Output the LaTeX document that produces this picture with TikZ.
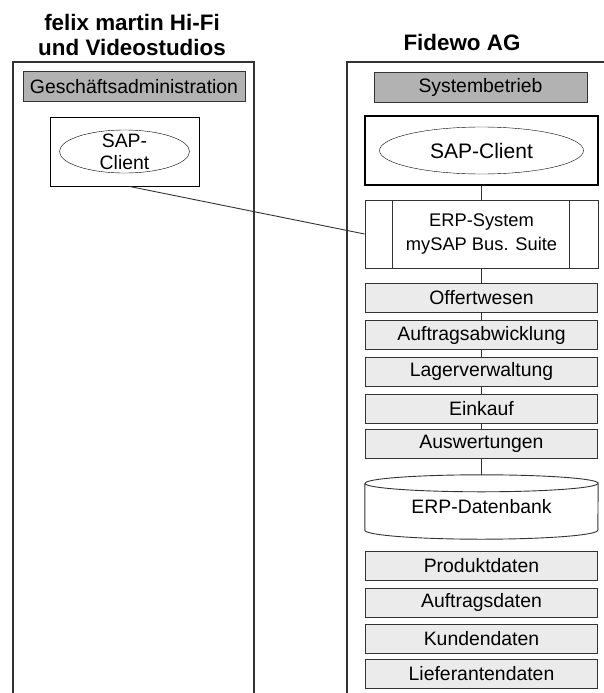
\documentclass[tikz,border=0pt]{standalone}
\usepackage{fontspec}
\setmainfont{Liberation Sans}
\usetikzlibrary{graphs,shapes.geometric}
\newcommand\modfont{\fontsize{19.4}{22}\selectfont}
\newcommand\erpfont{\fontsize{18.3}{24}\selectfont}
\newcommand\bigclientfont{\fontsize{21}{24}\selectfont}
\newcommand\headfont{\fontsize{22.4}{24.5}\selectfont\bfseries}
\tikzset{
    title/.style ={
        align=center,
        font=\headfont
    },
    header/.style ={
        shape=rectangle,
        draw=black!80,
        fill=black!30,
        inner sep=0pt,
        minimum height=30pt,
        font=\modfont
    },
    module/.style ={
        shape=rectangle,
        draw=black!80,
        fill=black!8,
        inner sep=0pt,
        minimum width=232pt,
        minimum height=29pt,
        font=\modfont
    },
    clientbox/.style ={
        shape=rectangle,
        draw=black,
        fill=white,
        minimum height=69pt
    },
    client/.style ={
        shape=ellipse,
        draw=black,
        inner sep=0pt
    },
    frame/.style ={
        draw=black!80,
        line width=1.2pt
    },
    link/.style ={
        draw=black!80,
        line width=0.9pt
    }
}

\begin{document}
\begin{tikzpicture}[x=1pt,y=-1pt]
    \useasboundingbox (0,0) rectangle (603,693);
    % frames, open at the bottom
    \draw[frame] (13,693) -- (13,62) -- (254,62) -- (254,693);
    \draw[frame] (347,693) -- (347,62) -- (606,62);

    \node[title] (felix) at (132,35) {felix martin Hi-Fi\\und Videostudios};
    \node[title] (fidewo) at (462,42) {Fidewo AG};

    \node[header, minimum width=222pt] (gesch) at (134,86.5) {Geschäftsadministration};
    \node[header, minimum width=213pt] (sysbetr) at (480.5,87) {Systembetrieb};

    \node[clientbox, line width=0.9pt, minimum width=149pt] (lclientbox) at (124.5,151.5) {};
    \node[client, minimum width=130pt, minimum height=43pt] (lclient) at (lclientbox) {};
    \node[align=center, font=\modfont] (lclienttext) at (lclient) {SAP-\\Client};

    \node[clientbox, line width=1.6pt, minimum width=233pt] (rclientbox) at (481.5,150.5) {};
    \node[client, minimum width=204pt, minimum height=47pt, font=\bigclientfont] (rclient) at (rclientbox) {SAP-Client};

    \node[clientbox, draw=black!80, line width=0.9pt, minimum width=233pt, minimum height=68pt,
          align=center, font=\erpfont] (erp) at (481.5,234) {ERP-System\\mySAP Bus. Suite};
    \draw[link] ([xshift=28pt]erp.north west) -- ([xshift=28pt]erp.south west);
    \draw[link] ([xshift=-29pt]erp.north east) -- ([xshift=-29pt]erp.south east);

    \node[module] (offert) at (481.5,298) {Offertwesen};
    \node[module] (auftrag) at (481.5,335) {Auftragsabwicklung};
    \node[module] (lager) at (481.5,371.5) {Lagerverwaltung};
    \node[module] (einkauf) at (481.5,408.5) {Einkauf};
    \node[module] (auswert) at (481.5,444) {Auswertungen};

    % database cylinder
    \node[minimum width=233pt, minimum height=64pt, inner sep=0pt, font=\modfont] (db) at (481.5,507) {ERP-Datenbank};
    \draw[link] ([yshift=-8.5pt]db.north west) -- ([yshift=9pt]db.south west)
        arc[start angle=180, end angle=360, x radius=116.5pt, y radius=9pt]
        -- ([yshift=-8.5pt]db.north east)
        arc[start angle=0, end angle=180, x radius=116.5pt, y radius=8.5pt];
    \draw[link] ([yshift=-8.5pt]db.north west)
        arc[start angle=180, end angle=360, x radius=116.5pt, y radius=8.5pt];

    \node[module] (produkt) at (481.5,566) {Produktdaten};
    \node[module] (auftragsd) at (481.5,602.5) {Auftragsdaten};
    \node[module] (kunden) at (481.5,638.5) {Kundendaten};
    \node[module] (liefer) at (481.5,674) {Lieferantendaten};

    \draw[link] ([xshift=5pt]lclientbox.south) -- (erp.west);
    \graph[edges=link]{
        (rclientbox) -- (erp) -- (offert) -- (auftrag) -- (lager) -- (einkauf) -- (auswert) -- (db);
    };
\end{tikzpicture}
\end{document}
